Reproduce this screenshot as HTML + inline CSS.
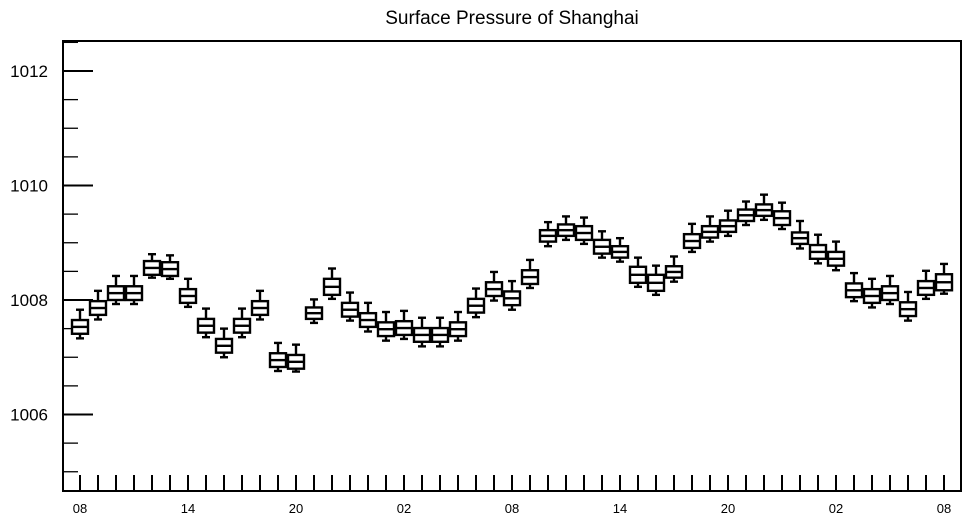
<!DOCTYPE html>
<html><head><meta charset="utf-8"><style>
html,body{margin:0;padding:0;background:#fff;}
svg{display:block;font-family:"Liberation Sans",Arial,sans-serif;}
</style></head><body>
<svg id="chart" width="968" height="520" viewBox="0 0 968 520">
<text x="512" y="24" font-size="19" text-anchor="middle">Surface Pressure of Shanghai</text>
<rect x="63" y="41" width="898" height="450" fill="none" stroke="#000" stroke-width="2"/>
<g id="yaxis"></g>
<g id="xaxis"></g>
<g id="boxes"></g>
</svg>
<script>
const medians=[1007.53,1007.86,1008.12,1008.12,1008.56,1008.54,1008.07,1007.55,1007.2,1007.55,1007.86,1006.95,1006.92,1007.77,1008.23,1007.83,1007.65,1007.49,1007.51,1007.39,1007.39,1007.49,1007.9,1008.19,1008.03,1008.4,1009.12,1009.22,1009.17,1008.93,1008.84,1008.44,1008.3,1008.49,1009.03,1009.19,1009.29,1009.48,1009.57,1009.43,1009.08,1008.84,1008.72,1008.17,1008.07,1008.12,1007.84,1008.21,1008.31];
const boxHalf=[0.12,0.12,0.12,0.12,0.12,0.12,0.12,0.12,0.12,0.12,0.12,0.12,0.12,0.1,0.14,0.12,0.12,0.12,0.12,0.12,0.12,0.12,0.12,0.12,0.12,0.12,0.1,0.1,0.12,0.12,0.1,0.14,0.14,0.1,0.12,0.1,0.1,0.1,0.1,0.12,0.1,0.12,0.12,0.12,0.12,0.12,0.12,0.12,0.14];
const whiskUp=[0.3,0.3,0.3,0.3,0.24,0.24,0.3,0.3,0.3,0.3,0.3,0.3,0.3,0.24,0.32,0.3,0.3,0.3,0.3,0.3,0.3,0.3,0.3,0.3,0.3,0.3,0.24,0.24,0.27,0.27,0.24,0.3,0.3,0.27,0.3,0.27,0.27,0.24,0.27,0.27,0.3,0.3,0.3,0.3,0.3,0.3,0.3,0.3,0.32];
const whiskDown=[0.2,0.2,0.19,0.19,0.17,0.17,0.19,0.2,0.2,0.2,0.2,0.19,0.17,0.17,0.21,0.19,0.2,0.2,0.19,0.2,0.2,0.2,0.2,0.2,0.2,0.19,0.18,0.17,0.19,0.19,0.17,0.21,0.21,0.17,0.19,0.17,0.17,0.17,0.17,0.19,0.18,0.2,0.2,0.19,0.2,0.19,0.2,0.19,0.2];
const yTicks=[1006,1008,1010,1012];
const xLabels=["08","14","20","02","08","14","20","02","08"];
const NS="http://www.w3.org/2000/svg";
const yScale=v=>300-(v-1008)*57.25;
const xScale=i=>80+i*18.0;
function mk(tag,attrs,parent){const e=document.createElementNS(NS,tag);for(const k in attrs)e.setAttribute(k,attrs[k]);parent.appendChild(e);return e;}
const ya=document.getElementById('yaxis'),xa=document.getElementById('xaxis'),bx=document.getElementById('boxes');
for(let v=1005;v<=1012.51;v+=0.5){
  const y=yScale(v); if(y<42||y>490)continue;
  const major=yTicks.includes(Math.round(v*100)/100);
  const t=mk('line',{x1:63,x2:major?93:78,y1:y,y2:y,stroke:'#000','stroke-width':major?2:1.3},ya);
  
  
}
yTicks.forEach(v=>{
  const t=mk('text',{x:48,y:yScale(v)+6,'font-size':17,'text-anchor':'end'},ya);
  t.textContent=String(v);
  
  
});
medians.forEach((m,i)=>{
  const x=xScale(i);
  const t=mk('line',{x1:x,x2:x,y1:491,y2:475,stroke:'#000','stroke-width':2},xa);
  
  
});
xLabels.forEach((s,k)=>{
  const t=mk('text',{x:xScale(k*6),y:513,'font-size':13,'text-anchor':'middle'},xa);
  t.textContent=s;
  
  
});
medians.forEach((m,i)=>{
  const x=xScale(i);
  const g=mk('g',{stroke:'#000','stroke-width':2.4,fill:'none'},bx);
  
  
  const q1=m-boxHalf[i],q3=m+boxHalf[i],hi=m+whiskUp[i],lo=m-whiskDown[i];
  mk('line',{x1:x,x2:x,y1:yScale(q3),y2:yScale(hi)},g);
  mk('line',{x1:x,x2:x,y1:yScale(q1),y2:yScale(lo)},g);
  mk('line',{x1:x-4,x2:x+4,y1:yScale(hi),y2:yScale(hi)},g);
  mk('line',{x1:x-4,x2:x+4,y1:yScale(lo),y2:yScale(lo)},g);
  mk('rect',{x:x-8,y:yScale(q3),width:16,height:yScale(q1)-yScale(q3),fill:'#fff'},g);
  mk('line',{x1:x-8,x2:x+8,y1:yScale(m),y2:yScale(m)},g);
});
</script>
</body></html>
